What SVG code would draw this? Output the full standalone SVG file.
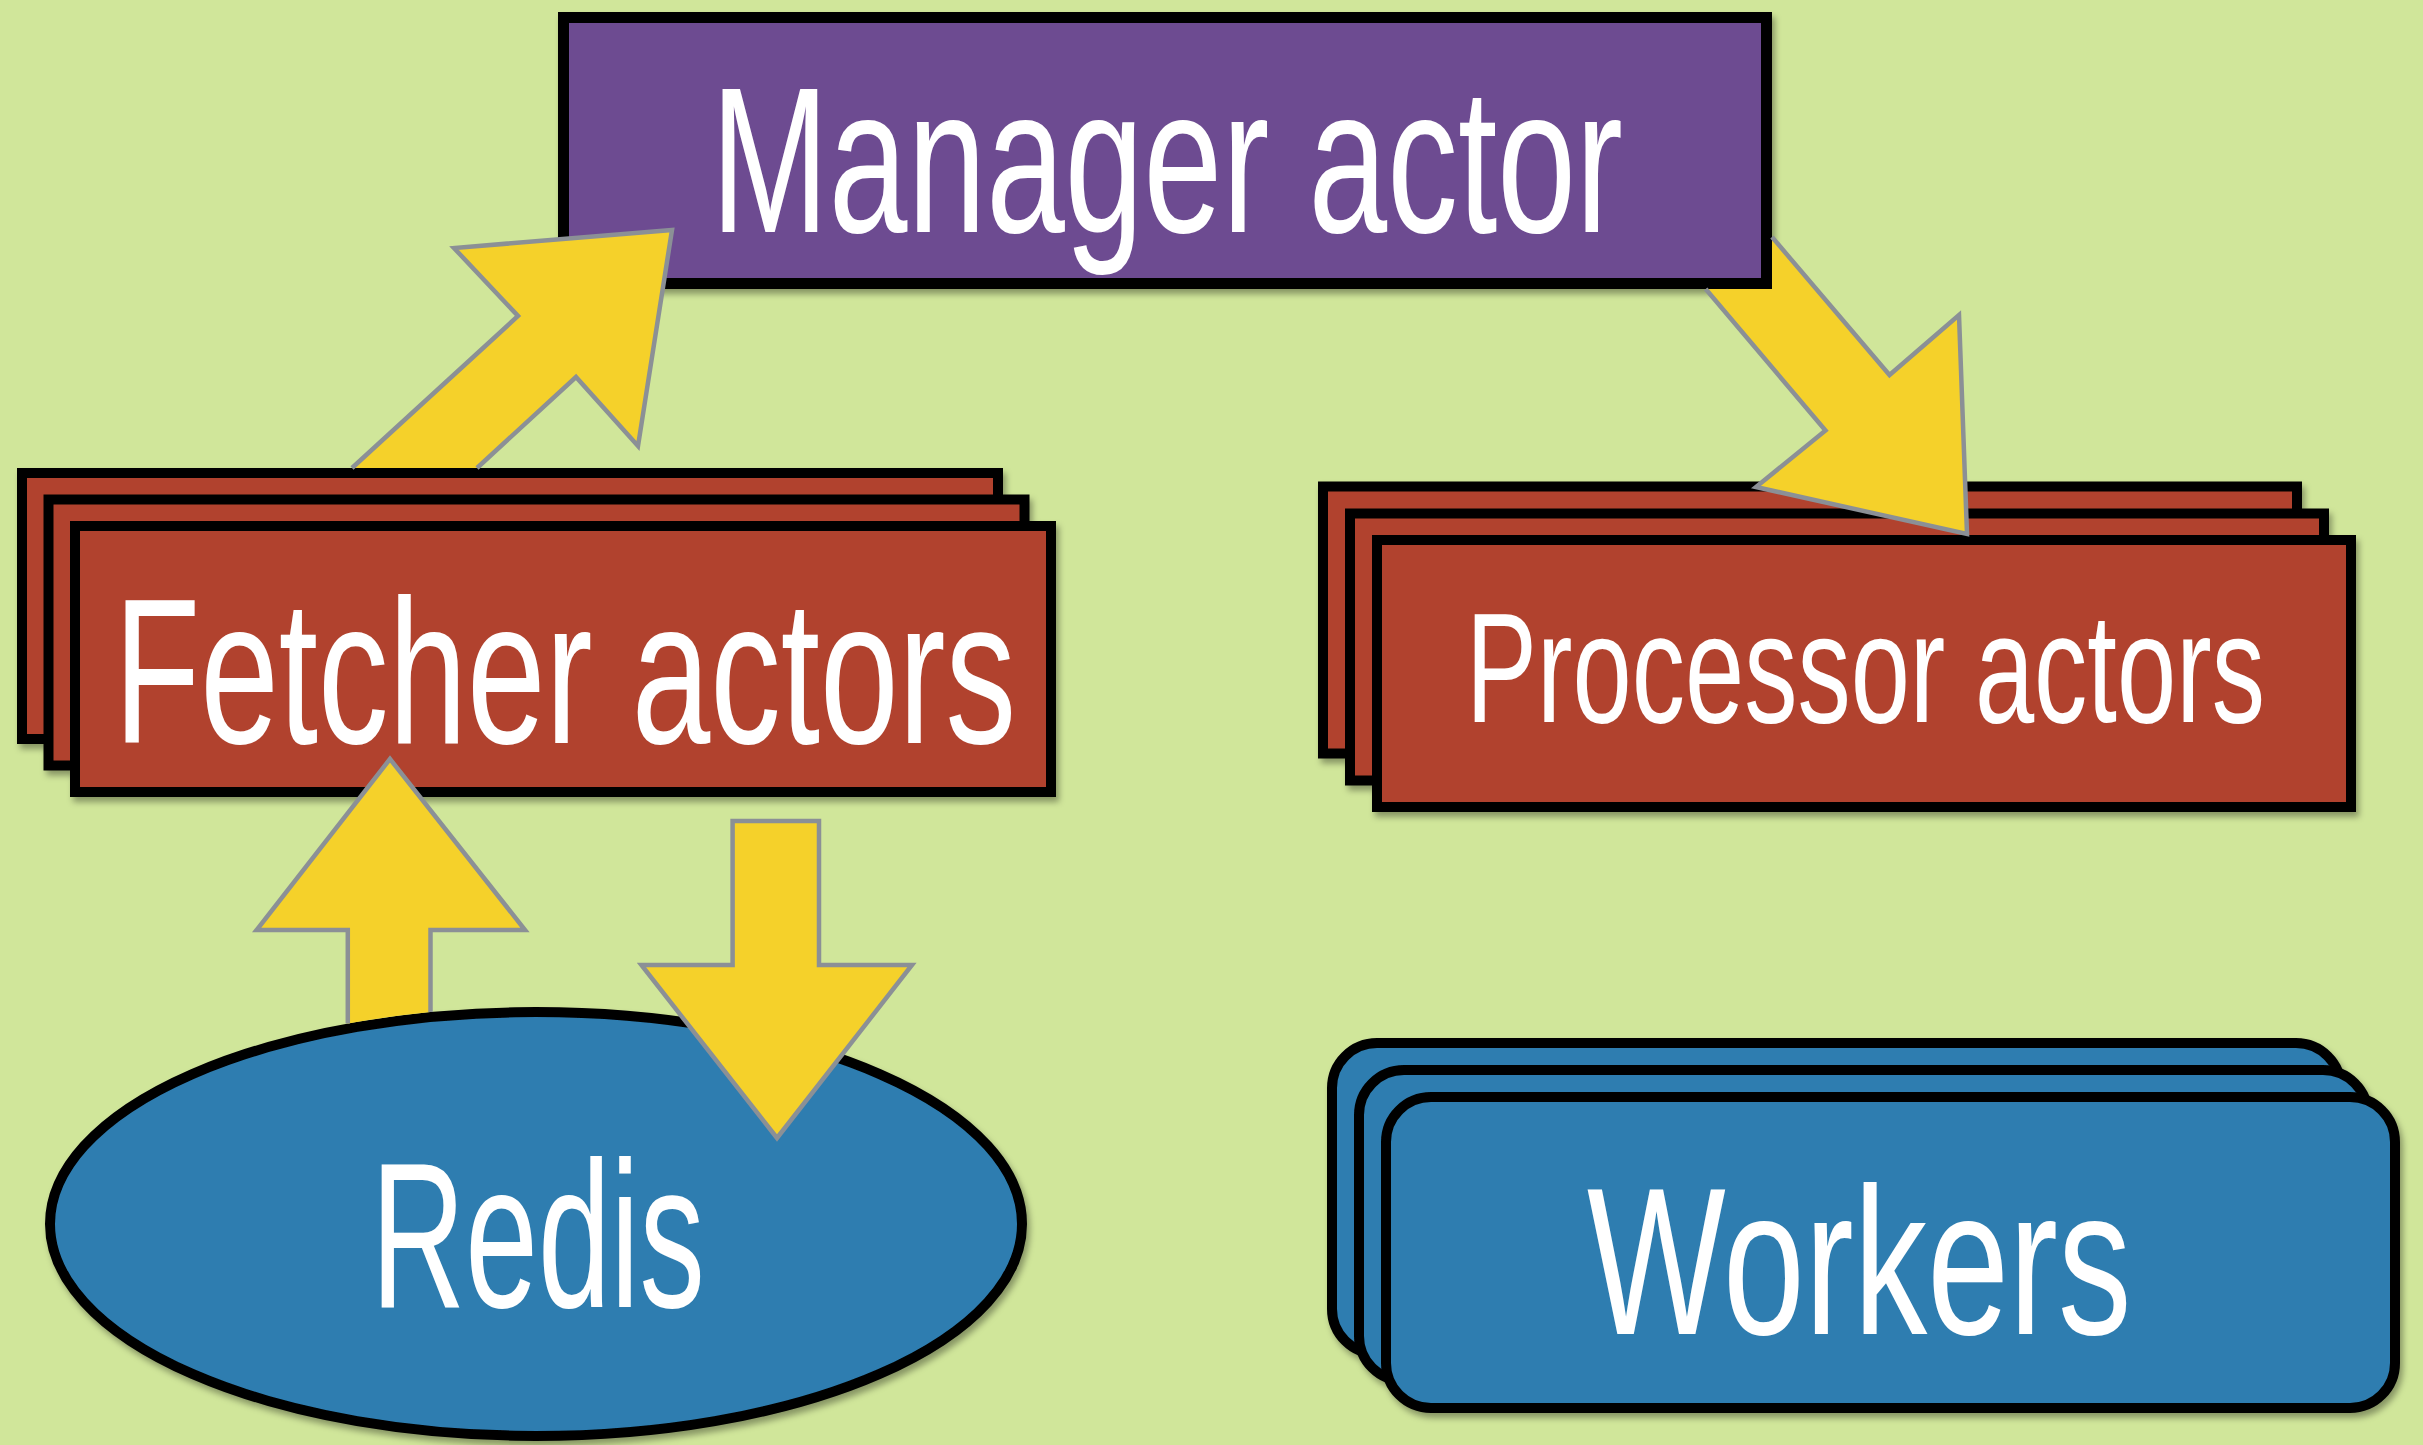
<svg xmlns="http://www.w3.org/2000/svg" width="2423" height="1445" viewBox="0 0 2423 1445">
<defs>
<filter id="sh" x="-5%" y="-5%" width="115%" height="120%">
<feDropShadow dx="3" dy="5" stdDeviation="3" flood-color="#000" flood-opacity="0.35"/>
</filter>
</defs>
<style>
.bg{fill:#D0E69A}
.box{stroke:#000;stroke-width:10}
.purple{fill:#6D4B91}
.red{fill:#B1432F}
.blue{fill:#2E7DB0}
.lbl{fill:#fff;font-family:"Liberation Sans",Arial,sans-serif;font-weight:normal}
.af{fill:#F5D12A;stroke:none}
.as{fill:none;stroke:#8B9096;stroke-width:4.5;stroke-linejoin:miter}
.ab{fill:#F5D12A;stroke:#8B9096;stroke-width:4.5}
</style>
<rect class="bg" x="0" y="0" width="2423" height="1445"/>

<g id="manager" filter="url(#sh)">
<rect class="box purple" x="563.5" y="17.5" width="1203" height="266" style="stroke-width:11"/>
<text class="lbl" transform="translate(711,232) scale(0.680,1)" x="0" y="0" font-size="208">Manager actor</text>
</g>

<g id="fetcher" filter="url(#sh)">
<rect class="box red" x="22" y="473" width="976" height="266"/>
<rect class="box red" x="48.5" y="499.5" width="976" height="266"/>
<rect class="box red" x="75" y="526" width="976" height="266"/>
<text class="lbl" transform="translate(114,743) scale(0.682,1)" x="0" y="0" font-size="207">Fetcher actors</text>
</g>

<g id="processor" filter="url(#sh)">
<rect class="box red" x="1323" y="486.5" width="974" height="267"/>
<rect class="box red" x="1350" y="513.5" width="974" height="267"/>
<rect class="box red" x="1377" y="540" width="974" height="267"/>
<text class="lbl" transform="translate(1466,722) scale(0.687,1)" x="0" y="0" font-size="155">Processor actors</text>
</g>

<g id="redis" filter="url(#sh)">
<ellipse class="box blue" cx="536" cy="1224" rx="486" ry="212"/>
<text class="lbl" transform="translate(371,1307) scale(0.631,1)" x="0" y="0" font-size="207">Redis</text>
</g>

<g id="workers" filter="url(#sh)">
<rect class="box blue" x="1332" y="1043" width="1009" height="311" rx="45" ry="45"/>
<rect class="box blue" x="1359" y="1070" width="1009" height="311" rx="45" ry="45"/>
<rect class="box blue" x="1386" y="1097" width="1009" height="311" rx="45" ry="45"/>
<text class="lbl" transform="translate(1587,1334) scale(0.700,1)" x="0" y="0" font-size="210">Workers</text>
</g>

<g id="connectors">
<!-- Fetcher -> Manager -->
<polygon class="af" points="352,468 518,316 454,248 672,230 638,446 576,377 477,468"/>
<polyline class="as" points="352,468 518,316 454,248 672,230 638,446 576,377 477,468"/>
<!-- Manager -> Processor -->
<polygon class="af" points="1772,237 1889.5,375 1959,315 1967,534 1756,487 1825.5,430.5 1705.7,289 1772,289"/>
<polyline class="as" points="1772,237 1889.5,375 1959,315 1967,534 1756,487 1825.5,430.5 1705.7,289"/>
<!-- Redis -> Fetcher -->
<path class="af" d="M430.5,1012 A491,217 0 0 0 347.8,1023.6 L347.8,930 L256.6,930 L390,759 L525,930 L430.5,930 Z"/>
<polyline class="as" points="347.8,1023.6 347.8,930 256.6,930 390,759 525,930 430.5,930 430.5,1012"/>
<!-- Fetcher -> Redis -->
<polygon class="ab" points="732.6,821 819,821 819,965 912,965 777,1138 641.4,965 732.6,965"/>
</g>
</svg>
